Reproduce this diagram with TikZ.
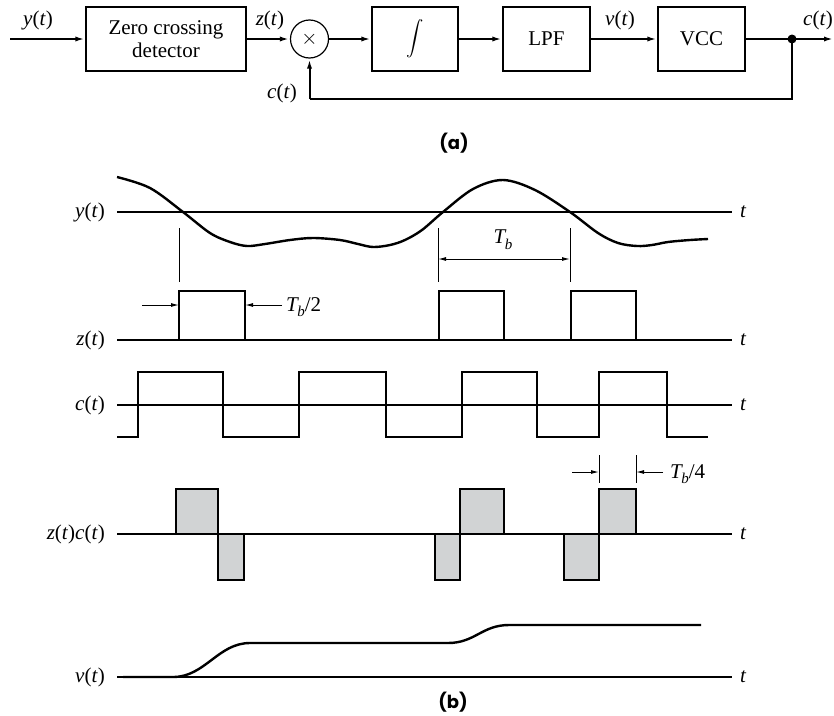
\documentclass[tikz,border=0pt]{standalone}
\usepackage{exscale}
\usepackage{fontspec}
\setmainfont{Liberation Serif}
\newfontfamily\capfont{Poppins}
\usetikzlibrary{arrows.meta,calc}
\definecolor{pulsegray}{RGB}{209,211,212}
\newcommand{\tbsym}{\textit{T\kern-0.5pt\raisebox{-0.28em}{\fontsize{15}{15}\selectfont b}}}
\begin{document}
\begin{tikzpicture}[x=1pt,y=-1pt,
  font=\fontsize{21}{24}\selectfont,
  blk/.style={draw,line width=1.2pt,minimum height=64pt,inner sep=0pt,align=center},
  conn/.style={line width=2pt,-{Latex[length=10pt,width=5pt]}},
  wire/.style={line width=2pt},
  axisline/.style={line width=1.3pt},
  wave/.style={line width=2.4pt,line join=miter},
  thinl/.style={line width=1pt},
  dim/.style={line width=1pt,-{Latex[length=8pt,width=4pt]}},
  dimboth/.style={line width=1pt,{Latex[length=8pt,width=4pt]}-{Latex[length=8pt,width=4pt]}},
  lbl/.style={inner sep=0pt},
  captxt/.style={inner sep=0pt,font=\capfont\bfseries\fontsize{18}{20}\selectfont}]
\useasboundingbox (0,0) rectangle (834,715);

% ---------- (a) block diagram ----------
\coordinate (in) at (10,39);
\node[blk,minimum width=160pt] (zcd) at (166,39) {Zero crossing\\[-1pt]detector};
\node[draw,circle,line width=1.2pt,minimum size=38pt,inner sep=0pt] (mul) at (309.5,39) {$\times$};
\node[blk,minimum width=86pt] (int) at (415,39) {};
\node[inner sep=0pt] (intsym) at (int.center) {\fontsize{18}{20}\selectfont$\displaystyle\int$};
\node[blk,minimum width=87pt] (lpf) at (546.5,39) {LPF};
\node[blk,minimum width=87pt] (vcc) at (701.5,39) {VCC};
\coordinate (dot) at (792,39);
\coordinate (out) at (834,39);
\coordinate (fbr) at (792,99);
\coordinate (fbl) at (309.5,99);

\draw[conn] (in) -- (zcd.west);
\draw[conn] (zcd.east) -- (mul.west);
\draw[conn] (mul.east) -- (int.west);
\draw[conn] (int.east) -- (lpf.west);
\draw[conn] (lpf.east) -- (vcc.west);
\draw[conn] (vcc.east) -- (out);
\draw[wire] (dot) -- (fbr) -- (fbl);
\draw[conn] (fbl) -- (mul.south);
\fill (dot) circle (4.5pt);

\node[lbl] (ly) at (38,20) {\textit{y}(\textit{t})};
\node[lbl] (lz) at (270,20) {\textit{z}(\textit{t})};
\node[lbl] (lv) at (620,20) {\textit{v}(\textit{t})};
\node[lbl] (lc) at (818,20) {\textit{c}(\textit{t})};
\node[lbl] (lcf) at (282,93) {\textit{c}(\textit{t})};
\node[captxt] (capa) at (454,143) {(a)};

% ---------- (b) waveforms ----------
% axes
\foreach \yy/\nm in {212/ya,340/za,405/ca,534/pa,677/va}{
  \coordinate (\nm s) at (117,\yy);
  \coordinate (\nm e) at (732,\yy);
  \draw[axisline] (\nm s) -- (\nm e);
  \node[lbl,anchor=west] (\nm t) at (740,\yy) {\textit{t}};
}
\node[lbl,anchor=east] (rly) at (105,212) {\textit{y}(\textit{t})};
\node[lbl,anchor=east] (rlz) at (105,340) {\textit{z}(\textit{t})};
\node[lbl,anchor=east] (rlc) at (105,405) {\textit{c}(\textit{t})};
\node[lbl,anchor=east] (rlp) at (105,534) {\textit{z}(\textit{t})\textit{c}(\textit{t})};
\node[lbl,anchor=east] (rlv) at (105,677) {\textit{v}(\textit{t})};

% y(t)
\draw[wave,line join=round] plot[smooth,tension=0.55] coordinates {
 (117,177) (150,188) (183,212) (210,233) (230,242) (247,246) (265,244)
 (290,240) (313,238) (340,240) (358,244) (373,247) (390,245) (405,240)
 (422,230) (443,212) (473,189) (503,180) (535,190)
 (570,212) (598,233) (618,243) (637,246) (652,245) (668,242) (690,240) (708,239)};

% markers and T_b
\foreach \xx/\nm in {179/m1,438/m2,570/m3}{
  \coordinate (\nm t) at (\xx,228);
  \coordinate (\nm b) at (\xx,282);
  \draw[thinl] (\nm t) -- (\nm b);
}
\coordinate (tbl) at (438,259);
\coordinate (tbr) at (570,259);
\draw[dimboth] (tbl) -- (tbr);
\node[lbl] (tb) at (503,240) {\tbsym};

% z(t)
\draw[wave] (179,340) -- (179,291) -- (245,291) -- (245,340);
\draw[wave] (439,340) -- (439,291) -- (504,291) -- (504,340);
\draw[wave] (571,340) -- (571,291) -- (636,291) -- (636,340);
\coordinate (h1a) at (142,305);
\coordinate (h1b) at (179,305);
\coordinate (h2a) at (282,305);
\coordinate (h2b) at (245,305);
\draw[dim] (h1a) -- (h1b);
\draw[dim] (h2a) -- (h2b);
\node[lbl,anchor=base west] (tbh) at (286,311) {\tbsym/2};

% c(t)
\draw[wave] (117,437) -- (138,437) -- (138,372) -- (223,372) -- (223,437)
 -- (299,437) -- (299,372) -- (386,372) -- (386,437) -- (462,437)
 -- (462,372) -- (537,372) -- (537,437) -- (599,437) -- (599,372)
 -- (667,372) -- (667,437) -- (708,437);

% z(t)c(t)
\foreach \xa/\xb/\yt in {176/218/489, 218/244/580, 435/460/580, 460/504/489, 564/599/580, 599/636/489}{
  \fill[pulsegray] (\xa,534) rectangle (\xb,\yt);
  \draw[wave] (\xa,534) -- (\xa,\yt) -- (\xb,\yt) -- (\xb,534);
}
\draw[axisline] (pas) -- (pae);
\foreach \xx/\nm in {599/q1,636/q2}{
  \coordinate (\nm t) at (\xx,455);
  \coordinate (\nm b) at (\xx,483);
  \draw[thinl] (\nm t) -- (\nm b);
}
\coordinate (q1a) at (572,472);
\coordinate (q1c) at (599,472);
\coordinate (q2a) at (663,472);
\coordinate (q2c) at (636,472);
\draw[dim] (q1a) -- (q1c);
\draw[dim] (q2a) -- (q2c);
\node[lbl,anchor=base west] (tbq) at (670,478) {\tbsym/4};

% v(t)
\draw[wave,line join=round] (123,677) -- (173,677)
  .. controls (205,677) and (218,643) .. (250,643) -- (448,643)
  .. controls (475,643) and (482,625) .. (509,625) -- (701,625);

\node[captxt] (capb) at (453,702) {(b)};
\end{tikzpicture}
\end{document}
